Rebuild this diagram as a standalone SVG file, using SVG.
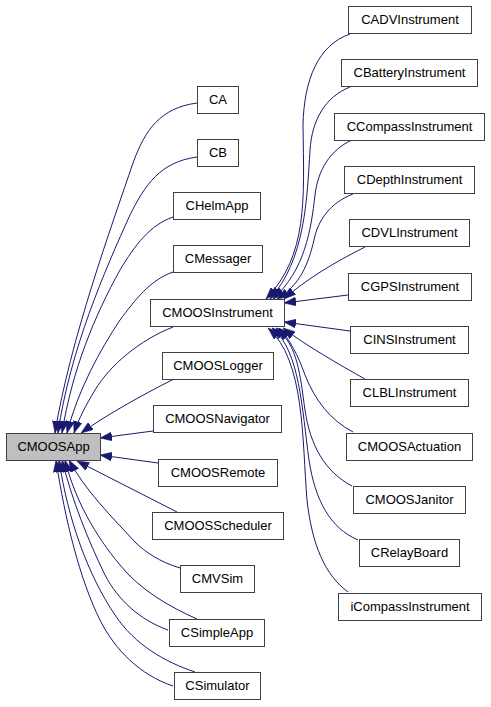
<svg xmlns="http://www.w3.org/2000/svg" width="491" height="707" viewBox="0 0 491 707">
<style>
.box{fill:#ffffff;stroke:#404040;stroke-width:1}
.root{fill:#bfbfbf}
.lbl{font-family:"Liberation Sans",Arial,sans-serif;font-size:13px;fill:#000000;text-anchor:middle}
.e{fill:none;stroke:#191970;stroke-width:1;marker-end:url(#ah)}
</style>
<defs>
<marker id="ah" markerUnits="userSpaceOnUse" markerWidth="12" markerHeight="9" refX="12" refY="4.5" orient="auto" viewBox="0 0 12 9">
<path d="M0,0 L12,4.5 L0,9 Z" fill="#191970" stroke="#191970" stroke-width="0.5"/>
</marker>
</defs>
<rect width="491" height="707" fill="#ffffff"/>
<g id="edges">
<path class="e" d="M197,103 C160,108 145,130 133,163 C112,225 70,340 55,433"/>
<path class="e" d="M197,157 C160,162 145,185 130,215 C105,270 70,350 58,433"/>
<path class="e" d="M173,217 C150,225 135,245 120,270 C95,315 72,370 62,433"/>
<path class="e" d="M173,272 C150,280 135,300 120,320 C100,350 78,390 67,433"/>
<path class="e" d="M173,327 C140,340 110,365 95,390 C86,405 79,418 74,433"/>
<path class="e" d="M174,379 C140,396 105,416 81,433"/>
<path class="e" d="M153,431 L100,438"/>
<path class="e" d="M158,463 L100,455"/>
<path class="e" d="M177,512 L77,461"/>
<path class="e" d="M180,568 C160,562 145,552 135,542 C110,515 85,490 69,460"/>
<path class="e" d="M197,619 C170,607 140,590 120,565 C95,535 75,500 65,460"/>
<path class="e" d="M168,630 C140,620 118,600 105,575 C88,540 72,500 62,460"/>
<path class="e" d="M195,672 C165,662 135,645 115,615 C88,575 68,520 59,460"/>
<path class="e" d="M173,686 C140,675 115,650 100,620 C80,580 65,520 56,460"/>
<path class="e" d="M350,34 C318,45 304,80 303,125 C304,200 308,255 266,299"/>
<path class="e" d="M350,87 C325,97 312,120 310,150 C307,200 305,260 270,299"/>
<path class="e" d="M352,140 C330,150 318,170 315,195 C311,230 305,270 273,299"/>
<path class="e" d="M353,194 C330,203 318,220 314,240 C308,265 300,285 277,299"/>
<path class="e" d="M365,247 C335,262 305,280 284,299"/>
<path class="e" d="M348,295 L284,303"/>
<path class="e" d="M350,331 L284,322"/>
<path class="e" d="M365,379 C340,365 305,345 283,328"/>
<path class="e" d="M353,432 C330,420 315,400 305,375 C298,355 290,340 279,328"/>
<path class="e" d="M352,486 C325,472 310,445 305,410 C300,375 298,345 276,328"/>
<path class="e" d="M358,540 C330,528 315,500 309,460 C302,410 300,350 272,328"/>
<path class="e" d="M348,592 C325,575 312,545 307,500 C302,440 305,360 268,328"/>
</g>
<g id="node-CMOOSApp"><rect class="box root" x="6.5" y="433.5" width="94" height="27"/><text class="lbl" x="53.5" y="451">CMOOSApp</text></g>
<g id="node-CA"><rect class="box" x="197.5" y="86.5" width="41" height="27"/><text class="lbl" x="218" y="104">CA</text></g>
<g id="node-CB"><rect class="box" x="197.5" y="139.5" width="41" height="27"/><text class="lbl" x="218" y="157">CB</text></g>
<g id="node-CHelmApp"><rect class="box" x="173.5" y="192.5" width="87" height="27"/><text class="lbl" x="217" y="210">CHelmApp</text></g>
<g id="node-CMessager"><rect class="box" x="173.5" y="245.5" width="89" height="27"/><text class="lbl" x="218" y="263">CMessager</text></g>
<g id="node-CMOOSInstrument"><rect class="box" x="150.5" y="299.5" width="134" height="27"/><text class="lbl" x="217.5" y="317">CMOOSInstrument</text></g>
<g id="node-CMOOSLogger"><rect class="box" x="162.5" y="352.5" width="111" height="27"/><text class="lbl" x="218" y="370">CMOOSLogger</text></g>
<g id="node-CMOOSNavigator"><rect class="box" x="153.5" y="405.5" width="128" height="27"/><text class="lbl" x="217.5" y="423">CMOOSNavigator</text></g>
<g id="node-CMOOSRemote"><rect class="box" x="158.5" y="459.5" width="119" height="27"/><text class="lbl" x="218" y="477">CMOOSRemote</text></g>
<g id="node-CMOOSScheduler"><rect class="box" x="152.5" y="512.5" width="131" height="27"/><text class="lbl" x="218" y="530">CMOOSScheduler</text></g>
<g id="node-CMVSim"><rect class="box" x="180.5" y="565.5" width="74" height="27"/><text class="lbl" x="217.5" y="583">CMVSim</text></g>
<g id="node-CSimpleApp"><rect class="box" x="169.5" y="619.5" width="95" height="27"/><text class="lbl" x="217" y="637">CSimpleApp</text></g>
<g id="node-CSimulator"><rect class="box" x="174.5" y="672.5" width="86" height="27"/><text class="lbl" x="217.5" y="690">CSimulator</text></g>
<g id="node-CADVInstrument"><rect class="box" x="348.5" y="6.5" width="123" height="27"/><text class="lbl" x="410" y="24">CADVInstrument</text></g>
<g id="node-CBatteryInstrument"><rect class="box" x="341.5" y="59.5" width="136" height="27"/><text class="lbl" x="409.5" y="77">CBatteryInstrument</text></g>
<g id="node-CCompassInstrument"><rect class="box" x="334.5" y="113.5" width="150" height="27"/><text class="lbl" x="409.5" y="131">CCompassInstrument</text></g>
<g id="node-CDepthInstrument"><rect class="box" x="344.5" y="166.5" width="130" height="27"/><text class="lbl" x="409.5" y="184">CDepthInstrument</text></g>
<g id="node-CDVLInstrument"><rect class="box" x="349.5" y="219.5" width="120" height="27"/><text class="lbl" x="409.5" y="237">CDVLInstrument</text></g>
<g id="node-CGPSInstrument"><rect class="box" x="348.5" y="273.5" width="123" height="27"/><text class="lbl" x="410" y="291">CGPSInstrument</text></g>
<g id="node-CINSInstrument"><rect class="box" x="350.5" y="326.5" width="118" height="27"/><text class="lbl" x="409.5" y="344">CINSInstrument</text></g>
<g id="node-CLBLInstrument"><rect class="box" x="350.5" y="379.5" width="118" height="27"/><text class="lbl" x="409.5" y="397">CLBLInstrument</text></g>
<g id="node-CMOOSActuation"><rect class="box" x="346.5" y="433.5" width="126" height="27"/><text class="lbl" x="409.5" y="451">CMOOSActuation</text></g>
<g id="node-CMOOSJanitor"><rect class="box" x="353.5" y="486.5" width="112" height="27"/><text class="lbl" x="409.5" y="504">CMOOSJanitor</text></g>
<g id="node-CRelayBoard"><rect class="box" x="359.5" y="539.5" width="100" height="27"/><text class="lbl" x="409.5" y="557">CRelayBoard</text></g>
<g id="node-iCompassInstrument"><rect class="box" x="338.5" y="593.5" width="143" height="27"/><text class="lbl" x="410" y="611">iCompassInstrument</text></g>
</svg>
